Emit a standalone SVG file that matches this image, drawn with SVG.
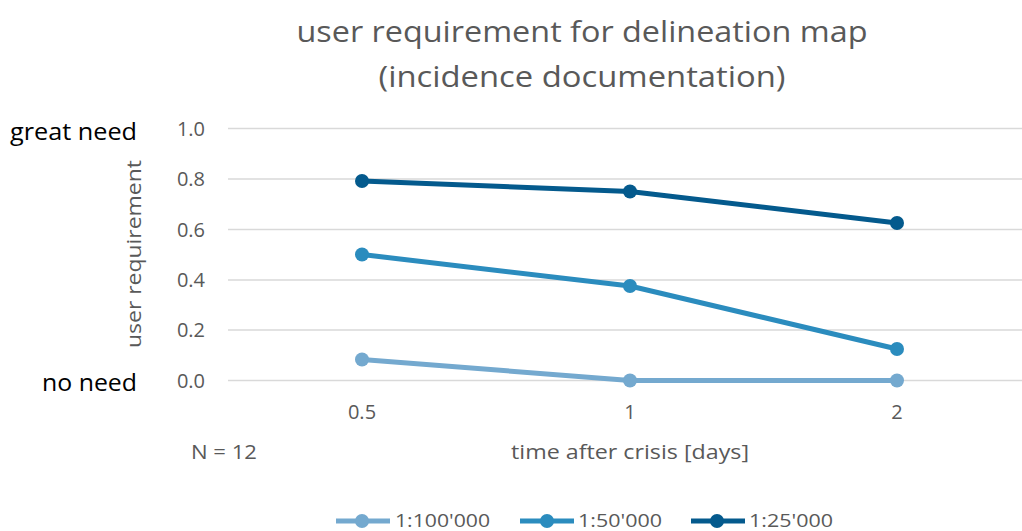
<svg xmlns="http://www.w3.org/2000/svg" width="1022" height="531" viewBox="0 0 1022 531">
<style>
text{font-family:"Open Sans","Liberation Sans",sans-serif;fill:#595959}
.title{font-size:30px;text-anchor:middle}
.tick{font-size:20px;text-anchor:end}
.xtick{font-size:20px;text-anchor:middle}
.lab{font-size:20px}
.leg{font-size:19px}
.need{font-size:24px;fill:#000;text-anchor:end}
.grid{stroke:#d9d9d9;stroke-width:1.5}
.s1{stroke:#74a9cf;fill:none;stroke-width:5;stroke-linejoin:round}
.s2{stroke:#2b8cbe;fill:none;stroke-width:5;stroke-linejoin:round}
.s3{stroke:#045a8d;fill:none;stroke-width:5;stroke-linejoin:round}
.m1{fill:#74a9cf}.m2{fill:#2b8cbe}.m3{fill:#045a8d}
</style>
<rect width="1022" height="531" fill="#fff"/>
<g id="title">
<text class="title" x="582" y="42" textLength="571" lengthAdjust="spacingAndGlyphs">user requirement for delineation map</text>
<text class="title" x="582" y="87" textLength="407" lengthAdjust="spacingAndGlyphs">(incidence documentation)</text>
</g>
<g id="grid">
<line class="grid" x1="228" y1="128.5" x2="1022" y2="128.5"/>
<line class="grid" x1="228" y1="179" x2="1022" y2="179"/>
<line class="grid" x1="228" y1="229.5" x2="1022" y2="229.5"/>
<line class="grid" x1="228" y1="280" x2="1022" y2="280"/>
<line class="grid" x1="228" y1="330" x2="1022" y2="330"/>
<line class="grid" x1="228" y1="380.5" x2="1022" y2="380.5"/>
</g>
<g id="y-axis">
<text class="tick" x="205" y="135.5">1.0</text>
<text class="tick" x="205" y="186">0.8</text>
<text class="tick" x="205" y="236.5">0.6</text>
<text class="tick" x="205" y="287">0.4</text>
<text class="tick" x="205" y="337">0.2</text>
<text class="tick" x="205" y="387.5">0.0</text>
<text class="lab" transform="translate(141,254) rotate(-90)" text-anchor="middle" textLength="188" lengthAdjust="spacingAndGlyphs">user requirement</text>
<text class="need" x="137" y="140" textLength="127" lengthAdjust="spacingAndGlyphs">great need</text>
<text class="need" x="137" y="391" textLength="95" lengthAdjust="spacingAndGlyphs">no need</text>
</g>
<g id="x-axis">
<text class="xtick" x="362" y="419">0.5</text>
<text class="xtick" x="630" y="419">1</text>
<text class="xtick" x="897" y="419">2</text>
<text class="lab" x="630" y="459" text-anchor="middle" textLength="238" lengthAdjust="spacingAndGlyphs">time after crisis [days]</text>
<text class="lab" x="191" y="459" textLength="66" lengthAdjust="spacingAndGlyphs">N = 12</text>
</g>
<g id="connectors">
<polyline class="s1" points="362,359.5 630,380.5 897,380.5"/>
<polyline class="s2" points="362,254.5 630,286 897,349"/>
<polyline class="s3" points="362,181 630,191.5 897,223"/>
</g>
<g id="series-100000">
<circle class="m1" cx="362" cy="359.5" r="7"/><circle class="m1" cx="630" cy="380.5" r="7"/><circle class="m1" cx="897" cy="380.5" r="7"/>
</g>
<g id="series-50000">
<circle class="m2" cx="362" cy="254.5" r="7"/><circle class="m2" cx="630" cy="286" r="7"/><circle class="m2" cx="897" cy="349" r="7"/>
</g>
<g id="series-25000">
<circle class="m3" cx="362" cy="181" r="7"/><circle class="m3" cx="630" cy="191.5" r="7"/><circle class="m3" cx="897" cy="223" r="7"/>
</g>
<g id="legend">
<line class="s1" x1="336" y1="521" x2="390" y2="521"/><circle class="m1" cx="362" cy="521" r="7"/>
<text class="leg" x="395" y="526.5" textLength="95" lengthAdjust="spacingAndGlyphs">1:100'000</text>
<line class="s2" x1="520" y1="521" x2="574" y2="521"/><circle class="m2" cx="547" cy="521" r="7"/>
<text class="leg" x="578" y="526.5" textLength="84" lengthAdjust="spacingAndGlyphs">1:50'000</text>
<line class="s3" x1="691" y1="521" x2="745" y2="521"/><circle class="m3" cx="717" cy="521" r="7"/>
<text class="leg" x="749" y="526.5" textLength="84" lengthAdjust="spacingAndGlyphs">1:25'000</text>
</g>
</svg>
